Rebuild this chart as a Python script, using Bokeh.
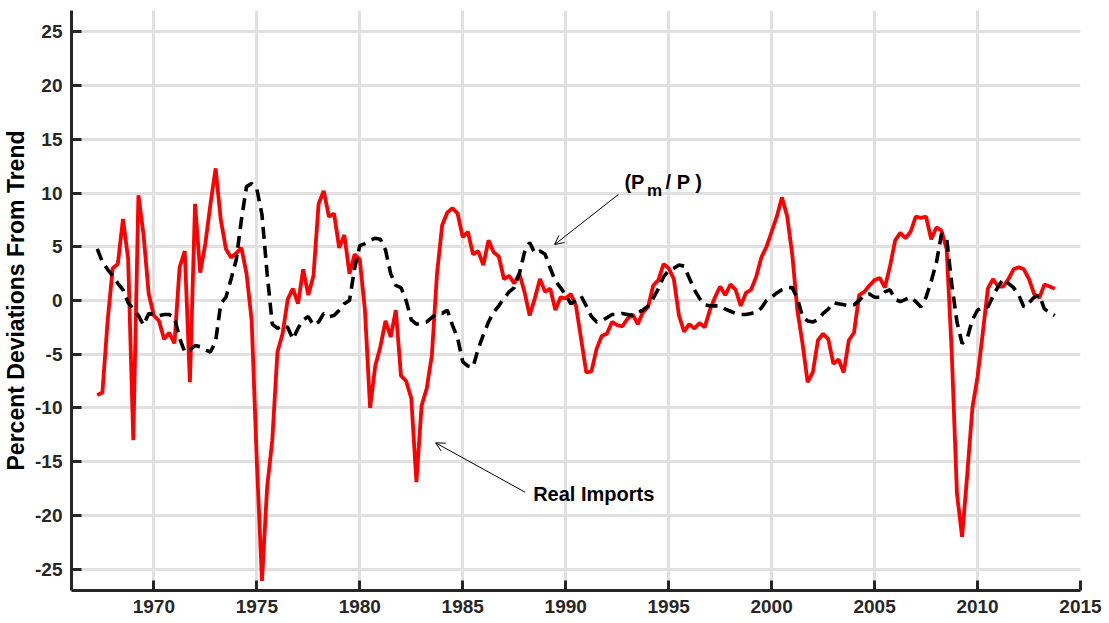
import numpy as np
from bokeh.plotting import figure
from bokeh.models import ColumnDataSource, Range1d, FixedTicker, Label, Arrow, OpenHead
from bokeh.embed import file_html
from bokeh.resources import INLINE

# ---- data (quarterly, 1967Q2 .. 2013Q4) ----
start_year = 1967.25
real_imports = [
    -8.8, -8.6, -2.0, 3.0, 3.4, 7.6, 3.9, -13.0, 9.8, 6.1,
    0.6, -1.4, -1.9, -3.6, -3.0, -4.0, 3.1, 4.6, -7.6, 9.0,
    2.6, 5.3, 9.0, 12.3, 7.5, 4.8, 4.0, 4.4, 4.9, 2.5,
    -1.9, -15.0, -26.1, -17.4, -13.0, -4.8, -3.1, 0.1, 1.1, -0.3,
    2.9, 0.5, 2.3, 9.0, 10.2, 7.8, 8.1, 4.9, 6.1, 2.5,
    4.3, 3.8, -0.9, -10.0, -6.1, -4.3, -1.9, -3.4, -0.9, -7.0,
    -7.5, -9.1, -16.9, -9.8, -8.2, -5.1, 2.5, 7.0, 8.2, 8.6,
    8.1, 5.9, 6.4, 4.3, 4.6, 3.3, 5.6, 4.5, 4.1, 2.0,
    2.3, 1.6, 2.5, 0.8, -1.4, 0.2, 2.0, 0.8, 1.1, -0.9,
    0.3, 0.2, 0.6, -0.5, -3.6, -6.7, -6.6, -4.5, -3.3, -3.1,
    -2.0, -2.3, -2.4, -1.7, -1.3, -2.2, -1.1, -0.6, 1.4, 1.9,
    3.4, 3.0, 2.0, -1.4, -2.9, -2.2, -2.6, -2.1, -2.5, -0.9,
    0.3, 1.3, 0.5, 1.5, 1.0, -0.5, 0.7, 1.0, 2.2, 4.0,
    5.0, 6.4, 7.8, 9.6, 7.9, 4.3, -0.9, -4.0, -7.6, -6.7,
    -3.7, -3.1, -3.6, -5.9, -5.5, -6.7, -3.7, -3.0, 0.5, 0.8,
    1.4, 1.9, 2.1, 1.2, 3.2, 5.6, 6.3, 5.8, 6.4, 7.8,
    7.7, 7.8, 5.7, 6.8, 6.5, 4.8, -5.0, -18.0, -22.0, -16.2,
    -10.0, -7.1, -3.1, 1.1, 2.0, 1.3, 1.3, 2.0, 2.9, 3.1,
    2.9, 2.0, 0.6, 0.25, 1.5, 1.3, 1.1,
]
pm_over_p = [
    4.8, 3.6, 2.9, 2.3, 1.6, 1.0, -0.2, -0.8, -1.4, -2.3,
    -1.2, -1.3, -1.4, -1.3, -1.3, -1.6, -3.5, -4.8, -4.6, -4.2,
    -4.3, -4.6, -4.8, -3.8, -0.3, 0.3, 2.0, 3.8, 7.5, 10.6,
    10.9, 10.4, 8.0, 2.5, -2.2, -2.6, -2.3, -2.5, -3.6, -2.6,
    -1.8, -1.5, -2.3, -2.0, -1.2, -1.5, -1.4, -0.9, -0.3, 0.0,
    3.0, 5.1, 5.3, 5.6, 5.8, 5.7, 4.7, 2.5, 1.4, 1.2,
    0.0, -1.8, -2.2, -2.1, -2.0, -1.6, -1.2, -1.2, -0.9, -2.3,
    -3.5, -5.7, -6.1, -6.2, -4.5, -3.2, -2.0, -1.1, -0.5, 0.2,
    0.8, 1.2, 2.5, 4.5, 5.4, 4.4, 4.6, 4.3, 3.0, 1.8,
    1.2, 0.5, -0.3, 0.0, 0.4, -0.5, -1.5, -2.0, -1.9, -1.6,
    -1.3, -1.3, -1.2, -1.3, -1.4, -1.1, -0.9, -0.5, 0.2, 1.1,
    2.2, 2.8, 3.0, 3.3, 3.2, 2.1, 1.0, 0.2, -0.4, -0.5,
    -0.5, -0.5, -0.8, -1.0, -1.2, -1.3, -1.3, -1.2, -1.1, -0.7,
    0.0, 0.3, 0.7, 1.0, 1.2, 1.2, 0.2, -1.5, -1.9, -2.0,
    -1.8, -1.2, -0.8, -0.2, -0.3, -0.4, -0.5, -0.4, 0.0, 0.5,
    0.6, 0.3, 0.3, 0.8, 1.0, 0.1, -0.1, 0.1, 0.3, -0.1,
    -0.6, 0.3, 1.8, 3.5, 6.2, 5.8, 1.5, -2.0, -4.0, -3.5,
    -1.8, -0.9, -0.6, -0.6, 0.4, 1.3, 2.0, 1.6, 1.2, 0.5,
    -0.6, -0.2, 0.3, 0.5, -0.8, -1.1, -1.4,
]
x_ticks = [1970, 1975, 1980, 1985, 1990, 1995, 2000, 2005, 2010, 2015]
y_ticks = [-25, -20, -15, -10, -5, 0, 5, 10, 15, 20, 25]

years = start_year + 0.25 * np.arange(len(real_imports))
src = ColumnDataSource(dict(year=years, imp=real_imports, pm=pm_over_p))

FONT = "Liberation Sans"

p = figure(width=1105, height=621, output_backend="svg", toolbar_location=None,
           x_range=Range1d(1966, 2015), y_range=Range1d(-27, 27),
           min_border_left=68, min_border_right=25, min_border_top=10, min_border_bottom=31)
p.outline_line_color = None
p.background_fill_color = "white"

# grid
for g in (p.xgrid, p.ygrid):
    g.grid_line_color = "#e0e0e0"
    g.grid_line_width = 3
p.xgrid.ticker = FixedTicker(ticks=x_ticks)
p.ygrid.ticker = FixedTicker(ticks=y_ticks)

# axes
for ax in (p.xaxis, p.yaxis):
    ax.axis_line_color = "#262626"
    ax.axis_line_width = 3
    ax.major_tick_line_color = "#262626"
    ax.major_tick_line_width = 3
    ax.major_tick_in = 10
    ax.major_tick_out = 0
    ax.minor_tick_line_color = None
    ax.major_label_text_font = FONT
    ax.major_label_text_font_style = "bold"
    ax.major_label_text_font_size = "19px"
    ax.major_label_text_color = "#262626"
p.xaxis.ticker = FixedTicker(ticks=x_ticks)
p.yaxis.ticker = FixedTicker(ticks=y_ticks)
p.yaxis.major_label_overrides = {t: str(t) for t in y_ticks}
p.xaxis.major_label_standoff = 9
p.yaxis.major_label_standoff = 9
p.yaxis.axis_label = "Percent Deviations From Trend"
p.yaxis.axis_label_text_font = FONT
p.yaxis.axis_label_text_font_style = "bold"
p.yaxis.axis_label_text_font_size = "23px"
p.yaxis.axis_label_text_color = "#000000"
p.yaxis.axis_label_standoff = 3

# series
p.line("year", "imp", source=src, line_color="#ff0000", line_width=3.8)
p.line("year", "pm", source=src, line_color="#000000", line_width=3.6, line_dash="12 7")

# annotations
lab_kw = dict(text_font=FONT, text_font_style="bold", text_color="#000000",
              text_baseline="alphabetic")
p.add_layout(Label(x=1992.85, y=11.0, text="(P", text_font_size="20px", **lab_kw))
p.add_layout(Label(x=1993.95, y=10.2, text="m", text_font_size="17px", **lab_kw))
p.add_layout(Label(x=1994.85, y=11.0, text="/ P )", text_font_size="20px", **lab_kw))
p.add_layout(Arrow(x_start=1992.56, y_start=9.87, x_end=1989.46, y_end=5.21,
                   line_color="black", line_width=1,
                   end=OpenHead(size=9, line_color="black", line_width=1)))

p.add_layout(Label(x=1988.42, y=-17.97, text="Real Imports", text_font_size="20px",
                   text_font=FONT, text_font_style="bold", text_color="#000000",
                   text_baseline="middle"))
p.add_layout(Arrow(x_start=1988.03, y_start=-17.85, x_end=1983.68, y_end=-13.25,
                   line_color="black", line_width=1,
                   end=OpenHead(size=9, line_color="black", line_width=1)))

open("out.html", "w").write(file_html(p, INLINE))
